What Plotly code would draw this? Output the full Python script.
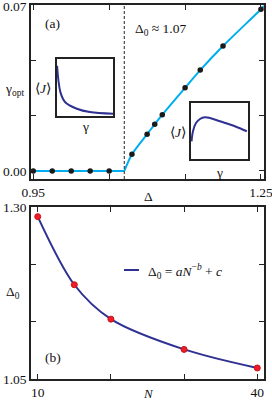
import plotly.graph_objects as go

# ---------------- data ----------------
# panel (a): optimal dephasing vs detuning
delta_pts = [0.95, 0.975, 1.0, 1.025, 1.05, 1.08, 1.10, 1.11, 1.12, 1.15, 1.17, 1.20, 1.25]
gamma_pts = [0, 0, 0, 0, 0, 0.0071, 0.0156, 0.0198, 0.0239, 0.0353, 0.0428, 0.0530, 0.0686]
delta0 = 1.07
flat_delta = [0.947, 1.07]
flat_gamma = [0, 0]
rise_delta = [1.07, 1.08, 1.10, 1.11, 1.12, 1.15, 1.17, 1.20, 1.25, 1.254]
rise_gamma = [0, 0.0071, 0.0156, 0.0198, 0.0239, 0.0353, 0.0428, 0.0530, 0.0686, 0.0700]

# inset 1 (below Delta0): <J> decays with gamma (arb. units)
in1_gamma = [0.01, 0.07, 0.155, 0.36, 0.59, 1.0]
in1_J = [0.88, 0.41, 0.235, 0.12, 0.06, 0.03]
# inset 2 (above Delta0): <J> has a maximum
in2_gamma = [0.01, 0.035, 0.088, 0.159, 0.247, 0.335, 0.511, 0.776, 0.988]
in2_J = [0.316, 0.495, 0.643, 0.714, 0.745, 0.732, 0.673, 0.584, 0.495]

# panel (b): Delta0 vs N
N_pts = [10, 15, 20, 30, 40]
D0_pts = [1.286, 1.187, 1.137, 1.093, 1.066]

# ticks (labelled ends + unlabelled inner ticks)
xa_ticks = [0.95, 1.25]
xa_text = ["0.95", "1.25"]
xa_minor = [1.05, 1.15]
ya_ticks = [0, 0.07]
ya_text = ["0.00", "0.07"]
ya_minor = [0.07 / 3, 0.14 / 3]
xb_ticks = [10, 40]
xb_text = ["10", "40"]
xb_minor = [20, 30]
yb_ticks = [1.05, 1.30]
yb_text = ["1.05", "1.30"]
yb_minor = [1.05 + 0.25 / 3, 1.05 + 0.5 / 3]

# ---------------- style ----------------
FONT = "Liberation Serif"
CYAN = "#00aeef"
NAVY = "#2e3192"
RED = "#ee1c25"
W, H = 272, 402


def px(x):
    return x / W


def py(y):
    return 1 - y / H


fig = go.Figure()

# panel (a)
fig.add_trace(go.Scatter(x=flat_delta, y=flat_gamma, mode="lines",
                         line=dict(color=CYAN, width=2), xaxis="x", yaxis="y"))
fig.add_trace(go.Scatter(x=rise_delta, y=rise_gamma, mode="lines",
                         line=dict(color=CYAN, width=2, shape="spline", smoothing=0.8),
                         xaxis="x", yaxis="y"))
fig.add_trace(go.Scatter(x=delta_pts, y=gamma_pts, mode="markers",
                         marker=dict(color="#1a1a1a", size=5.5), xaxis="x", yaxis="y"))

# insets
fig.add_trace(go.Scatter(x=in1_gamma, y=in1_J, mode="lines",
                         line=dict(color=NAVY, width=2, shape="spline"), xaxis="x3", yaxis="y3"))
fig.add_trace(go.Scatter(x=in2_gamma, y=in2_J, mode="lines",
                         line=dict(color=NAVY, width=2, shape="spline"), xaxis="x4", yaxis="y4"))

# panel (b)
fig.add_trace(go.Scatter(x=N_pts, y=D0_pts, mode="lines",
                         line=dict(color=NAVY, width=2, shape="spline", smoothing=0.9),
                         xaxis="x2", yaxis="y2"))
fig.add_trace(go.Scatter(x=N_pts, y=D0_pts, mode="markers",
                         marker=dict(color=RED, size=6, line=dict(color="#c4161c", width=1)),
                         xaxis="x2", yaxis="y2"))

axis_common = dict(showline=True, linecolor="#222", linewidth=1.5, mirror="allticks",
                   ticks="inside", ticklen=5, tickwidth=1.2, tickcolor="#222",
                   showgrid=False, zeroline=False, ticklabeloverflow="allow",
                   automargin=False, tickmode="array",
                   tickfont=dict(family=FONT, size=13.5, color="#111"))


def minor(vals):
    return dict(tickmode="array", tickvals=vals, ticks="inside", ticklen=5,
                tickwidth=1.2, tickcolor="#222", showgrid=False)


inset_axis = dict(showline=True, linecolor="#222", linewidth=1.5, mirror=True,
                  ticks="", showticklabels=False, showgrid=False, zeroline=False,
                  range=[0, 1])

fig.update_layout(
    width=W, height=H, autosize=False, margin=dict(l=0, r=0, t=0, b=0, pad=0),
    paper_bgcolor="white", plot_bgcolor="white", showlegend=False,
    xaxis=dict(axis_common, domain=[px(31), px(264)], range=[0.947, 1.254],
               tickvals=xa_ticks, ticktext=xa_text, minor=minor(xa_minor), anchor="y"),
    yaxis=dict(axis_common, domain=[py(179), py(5)], range=[-0.0034, 0.0704],
               tickvals=ya_ticks, ticktext=ya_text, minor=minor(ya_minor), anchor="x"),
    xaxis2=dict(axis_common, domain=[px(31), px(264)], range=[9.08, 40.92],
                tickvals=xb_ticks, ticktext=xb_text, minor=minor(xb_minor), anchor="y2"),
    yaxis2=dict(axis_common, domain=[py(379), py(207)], range=[1.05, 1.30],
                tickvals=yb_ticks, ticktext=yb_text, minor=minor(yb_minor), anchor="x2"),
    xaxis3=dict(inset_axis, domain=[px(56.5), px(113)], anchor="y3"),
    yaxis3=dict(inset_axis, domain=[py(115.5), py(59)], anchor="x3"),
    xaxis4=dict(inset_axis, domain=[px(191), px(247.5)], anchor="y4"),
    yaxis4=dict(inset_axis, domain=[py(159), py(103)], anchor="x4"),
)

# dashed line at Delta0
fig.add_shape(type="line", xref="x", yref="y domain", x0=delta0, x1=delta0, y0=0, y1=1,
              line=dict(color="#555", width=1.3, dash="3px,2px"))

# legend sample for panel (b)
fig.add_shape(type="line", xref="paper", yref="paper", x0=px(124), x1=px(139),
              y0=py(270), y1=py(270), line=dict(color=NAVY, width=2))


def ann(text, x, y, size=13.5, xanchor="center"):
    fig.add_annotation(text=text, x=px(x), y=py(y), xref="paper", yref="paper",
                       showarrow=False, xanchor=xanchor, yanchor="middle",
                       font=dict(family=FONT, size=size, color="#111"))


ann("(a)", 52, 24)
ann("Δ<sub>0</sub> ≈ 1.07", 133, 30, xanchor="left")
ann("γ<sub>opt</sub>", 14, 90)
ann("⟨<i>J</i>⟩", 43, 88)
ann("γ", 85, 126)
ann("⟨<i>J</i>⟩", 178, 132)
ann("γ", 219, 172)
ann("Δ", 148, 196)
ann("Δ<sub>0</sub>", 13, 292)
ann("(b)", 53, 357)
ann("<i>N</i>", 148, 393, size=13)
ann("Δ<sub>0</sub> = <i>aN</i><sup>−<i>b</i></sup> + <i>c</i>", 146, 271, xanchor="left")

fig.write_html(
    "out.html",
    config={"displayModeBar": False, "responsive": False},
    post_script=("document.documentElement.style.margin='0';"
                 "document.documentElement.style.overflow='hidden';"
                 "document.body.style.margin='0';"
                 "document.body.style.overflow='hidden';"),
)
